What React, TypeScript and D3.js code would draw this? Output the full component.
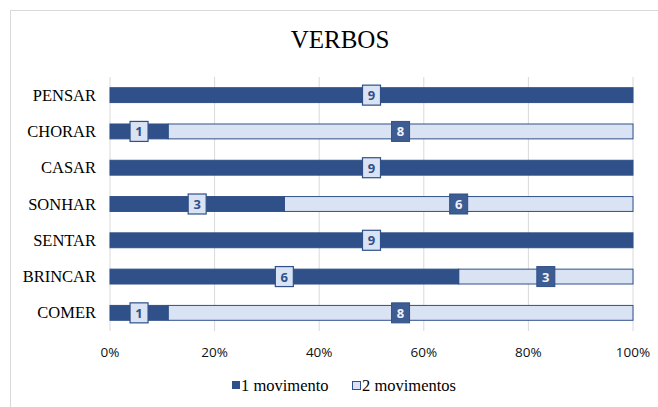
import React from "react";
import * as d3 from "d3";

const categories = ["PENSAR", "CHORAR", "CASAR", "SONHAR", "SENTAR", "BRINCAR", "COMER"];
const umMovimento = [9, 1, 9, 3, 9, 6, 1];
const doisMovimentos = [0, 8, 0, 6, 0, 3, 8];
const ticks = [0, 0.2, 0.4, 0.6, 0.8, 1];
const seriesNames = ["1 movimento", "2 movimentos"];

const DARK = "#2f5088";
const LIGHT = "#dae3f3";
const SERIF = "'Liberation Serif', 'Times New Roman', serif";

export default function App() {
  const width = 658;
  const height = 407;
  const left = 110;
  const right = 633;
  const top = 77;
  const bottom = 331;

  const x = d3.scaleLinear([0, 1], [left, right]);
  const y = d3.scaleBand(categories, [top, bottom]).paddingInner(0.59).paddingOuter(0.295);
  const bh = y.bandwidth();

  const rows = categories.map((c, i) => {
    const total = umMovimento[i] + doisMovimentos[i];
    return { c, a: umMovimento[i], b: doisMovimentos[i], pa: umMovimento[i] / total };
  });

  return (
    <svg width={width} height={height} style={{ position: "absolute", left: 0, top: 0 }}>
      <rect x={10.5} y={10.5} width={660} height={410} fill="white" stroke="#d9d9d9" />
      <text x={340} y={48} textAnchor="middle" fontFamily={SERIF} fontSize={25}>VERBOS</text>
      {ticks.map(t => (
        <line key={t} x1={x(t)} x2={x(t)} y1={top} y2={bottom} stroke="#d9d9d9" />
      ))}
      {ticks.map(t => (
        <text key={"l" + t} x={x(t)} y={357} textAnchor="middle" fontFamily="Open Sans" fontSize={13.5} fill="#111">
          {d3.format(".0%")(t)}
        </text>
      ))}
      {rows.map(r => {
        const yy = y(r.c)!;
        const cy = yy + bh / 2;
        return (
          <g key={r.c}>
            <text x={96} y={cy + 5.5} textAnchor="end" fontFamily={SERIF} fontSize={16.5}>{r.c}</text>
            {r.b > 0 && (
              <rect x={x(r.pa)} y={yy} width={x(1) - x(r.pa)} height={bh} fill={LIGHT} stroke={DARK} strokeWidth={1} />
            )}
            <rect x={x(0)} y={yy} width={x(r.pa) - x(0)} height={bh} fill={DARK} stroke={DARK} strokeWidth={1} />
            <rect x={x(r.pa / 2) - 9} y={cy - 10} width={18} height={20} fill={LIGHT} stroke={DARK} strokeWidth={1.2} />
            <text x={x(r.pa / 2)} y={cy + 5} textAnchor="middle" fontFamily="Open Sans" fontWeight="bold" fontSize={13} fill={DARK}>{r.a}</text>
            {r.b > 0 && (
              <g>
                <rect x={x((r.pa + 1) / 2) - 9} y={cy - 10} width={18} height={20} fill="#3d5d92" stroke={DARK} strokeWidth={1} />
                <text x={x((r.pa + 1) / 2)} y={cy + 5} textAnchor="middle" fontFamily="Open Sans" fontWeight="bold" fontSize={13} fill="#eef2fa">{r.b}</text>
              </g>
            )}
          </g>
        );
      })}
      <rect x={232} y={381} width={8} height={8} fill={DARK} />
      <text x={241} y={391} fontFamily={SERIF} fontSize={16.5}>{seriesNames[0]}</text>
      <rect x={352.5} y={381.5} width={8} height={8} fill={LIGHT} stroke={DARK} />
      <text x={362} y={391} fontFamily={SERIF} fontSize={16.5}>{seriesNames[1]}</text>
    </svg>
  );
}
